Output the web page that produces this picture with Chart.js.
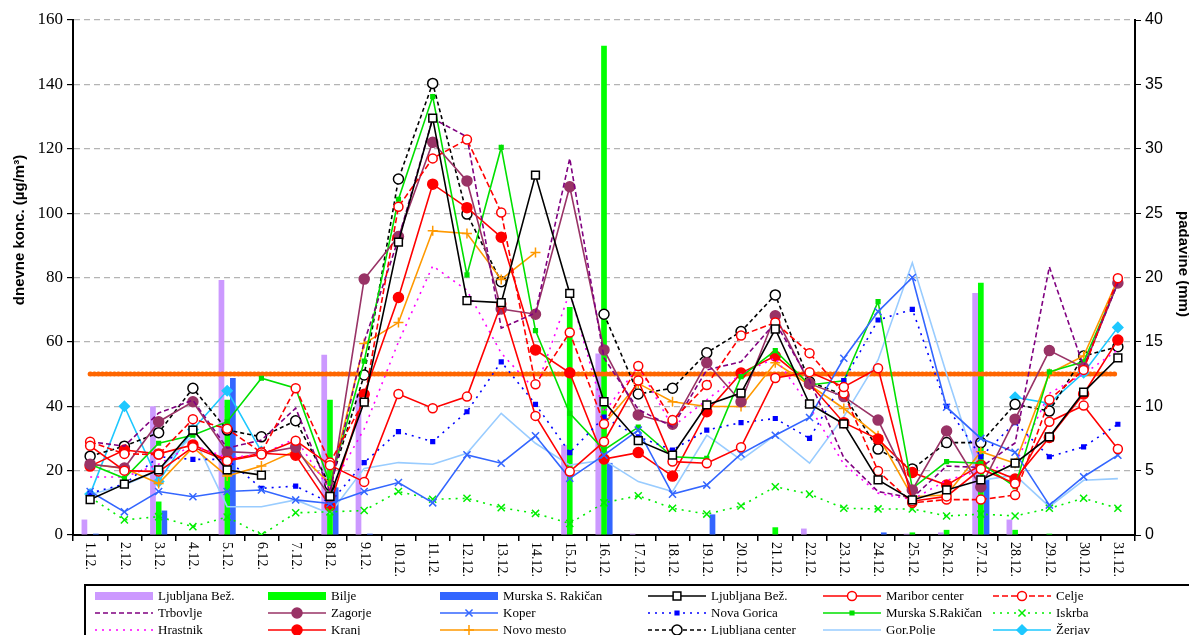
<!DOCTYPE html>
<html>
<head>
<meta charset="utf-8">
<script src="https://cdn.jsdelivr.net/npm/chart.js@4/dist/chart.umd.min.js"></script>
<style>
  html, body { margin: 0; padding: 0; background: #ffffff; }
  #wrap { width: 1189px; height: 635px; }
</style>
</head>
<body>
<div id="wrap"><canvas id="c" width="1189" height="635"></canvas></div>
<script>
// December days
const days = ['1.12.','2.12.','3.12.','4.12.','5.12.','6.12.','7.12.','8.12.','9.12.','10.12.',
  '11.12.','12.12.','13.12.','14.12.','15.12.','16.12.','17.12.','18.12.','19.12.','20.12.',
  '21.12.','22.12.','23.12.','24.12.','25.12.','26.12.','27.12.','28.12.','29.12.','30.12.','31.12.'];

// Precipitation (mm), right axis
const rainLjubljanaBez = [1.2,0,10.0,0,19.8,0,0,14.0,11.0,0,0,0,0,0,7.0,14.1,0.1,0,0,0,0,0.5,0,0,0.1,0.2,18.8,1.2,0,0,0];
const rainBilje        = [0,0,2.6,0,10.5,0,0,10.5,0,0,0,0,0,0,17.7,38.0,0,0,0,0,0.6,0,0,0,0.2,0.4,19.6,0.4,0.1,0,0];
const rainMurska       = [0.1,0,1.9,0,12.2,0,0,3.7,0.1,0,0,0,0,0,0,5.6,0,0,1.6,0,0,0,0,0.2,0,0,4.3,0,0,0,0];

// Daily PM10 concentrations (µg/m³), left axis
const ljubljanaBez = [11,15.8,20.2,32.6,20.2,18.6,null,12,41.3,91,129.5,72.8,72.2,111.8,75.1,41.4,29.3,24.8,40.4,44.1,64,40.7,34.5,17.1,10.9,14,17.1,22.3,30.5,44.4,55];
const mariborCenter = [27.7,20,19.7,27.3,23,25,29.3,21.7,16.5,43.8,39.4,43,71.8,37,19.7,29,48,22.8,22.3,27.3,48.8,50.6,46,51.8,10.5,12,20.5,16,35.2,40.2,26.7];
const celje = [29,25.2,25,36,33,25.6,45.6,22.5,41.7,102,117,122.9,100.2,46.8,62.9,34.5,52.5,35.7,46.6,62,66,56.5,44,19.9,10,11,11,12.4,42,51.3,79.8];
const trbovlje = [29,27.6,37.9,41.9,27,29.5,39.4,13.5,60,92,129.4,123.7,64.3,69,117,55,39,33.6,51.3,53.8,66,48,24,13.5,11.5,21.4,21,28.6,83.3,52.3,78.3];
const zagorje = [22,20.8,35.2,41.4,25.9,25.4,27.3,11.9,79.5,92.7,122,110,70.2,68.6,108.2,57.5,37.3,34.4,53.5,41.4,68.1,47,43,35.7,14,32.3,14.9,36,57.3,52,78.3];
const koper = [13.5,7.2,13.5,11.9,13.5,14,10.9,9.8,13.5,16.3,10,24.9,22.3,30.8,17.6,24.8,32.6,12.7,15.5,25.2,31,36.5,54.9,69.4,80,39.7,30,25.7,9.3,18.1,24.8];
const novaGorica = [13,15.8,24.3,23.5,23.5,14.5,15.2,10,22.5,32.1,29,38.3,53.8,40.6,25.6,36.6,30.5,26.4,32.6,34.9,36.2,30,48,66.8,70.1,40,24.3,34.9,24.3,27.4,34.4];
const murskaRakican = [22,17.6,28.5,31,35.2,48.7,45.6,16,54,104.3,136.2,80.8,120.4,63.5,37.8,26.4,33.5,24.3,23.8,49.2,57.3,46.6,47.9,72.5,14.5,22.8,22.3,15,50.7,53.8,78.2];
const iskrba = [11.7,4.7,5.7,2.6,5.6,0,6.9,7.2,7.6,13.5,11.1,11.4,8.5,6.7,3.6,10,12.2,8.3,6.5,9,15,12.7,8.3,8.1,8.1,5.9,6.5,5.9,8.3,11.4,8.3];
const hrastnik = [18,18,22,28,24,25,30,14,33,60,83.6,76,56.5,45,75.5,38,52.5,33.6,42,50,55,40,22,13,11,17,20,22,44,50,57.5];
const kranj = [21.4,26.4,25.2,28,23.3,25.4,24.8,9,43.7,73.8,109,101.7,92.5,57.5,50.4,23.6,25.6,18.3,38.3,50.3,55.6,47,34.9,29.8,19.4,15.5,21.7,17.4,30.3,43.8,60.6];
const novoMesto = [22,20.7,16,27.2,18.3,21.4,26.2,16,59.5,66,94.5,93.7,79.4,87.8,null,34.5,47.1,41.4,39.9,39.9,53.5,46.6,39.3,30.8,11.9,12.4,25.9,22.3,50.2,55.6,79.4];
const ljubljanaCenter = [24.5,27.6,31.8,45.6,32.6,30.5,35.5,15.5,49.7,110.6,140.3,99.7,78.7,null,null,68.6,43.8,45.6,56.6,63.2,74.6,47.6,43.5,26.7,20.5,28.7,28.7,40.6,38.5,55.6,58.5];
const gorPolje = [12.5,15.5,20,31,8.8,8.8,10.9,6.7,20.7,22.5,22,25.4,37.8,28.5,21.7,23.3,16.6,13.5,31,23.3,31,22.3,36.8,54.4,84.6,50,17,18.6,8.8,17,17.5];
const zerjav = [12.7,40,16.6,32.8,44.8,25.9,null,null,null,null,null,null,null,null,null,null,null,null,null,null,null,null,null,null,null,null,null,42.8,40.9,50.4,64.5];

// Daily limit value (µg/m³)
const dailyLimit = [50,50,50,50,50,50,50,50,50,50,50,50,50,50,50,50,50,50,50,50,50,50,50,50,50,50,50,50,50,50,50];

// Axis ticks
const leftTicks = [0,20,40,60,80,100,120,140,160];
const rightTicks = [0,5,10,15,20,25,30,35,40];

function bar(label, data, color) {
  return { type: 'bar', label, data, backgroundColor: color, borderWidth: 0,
    yAxisID: 'y1', categoryPercentage: 0.5, barPercentage: 1.0, order: 10 };
}
function line(label, data, color, o) {
  return Object.assign({ type: 'line', label, data, borderColor: color, backgroundColor: color,
    borderWidth: 1.6, pointRadius: 0, pointBorderWidth: 1.5, pointBorderColor: color,
    pointBackgroundColor: color, tension: 0, spanGaps: false, yAxisID: 'y', order: 1 }, o || {});
}

const DS = {
  rLjB: bar('Ljubljana Bež.', rainLjubljanaBez, '#cc99ff'),
  rBil: bar('Bilje', rainBilje, '#00ff00'),
  rMur: bar('Murska S. Rakičan', rainMurska, '#3366ff'),
  limit: line('limit', dailyLimit, '#ff6600', { borderWidth: 5, borderDash: [0.5, 3.5], borderCapStyle: 'round', order: 5 }),
  ljBez: line('Ljubljana Bež.', ljubljanaBez, '#000000', { pointStyle: 'rect', pointRadius: 5.5, pointBackgroundColor: '#ffffff' }),
  mar: line('Maribor center', mariborCenter, '#ff0000', { pointStyle: 'circle', pointRadius: 4.5, pointBackgroundColor: '#ffffff' }),
  cel: line('Celje', celje, '#ff0000', { borderDash: [6, 3], pointStyle: 'circle', pointRadius: 4.5, pointBackgroundColor: '#ffffff' }),
  trb: line('Trbovlje', trbovlje, '#800080', { borderDash: [5, 3] }),
  zag: line('Zagorje', zagorje, '#993366', { pointStyle: 'circle', pointRadius: 5 }),
  kop: line('Koper', koper, '#3366ff', { pointStyle: 'crossRot', pointRadius: 5 }),
  ng: line('Nova Gorica', novaGorica, '#0000ff', { borderDash: [2, 5], pointStyle: 'rect', pointRadius: 2.6 }),
  msr: line('Murska S.Rakičan', murskaRakican, '#00e000', { pointStyle: 'rect', pointRadius: 2.6 }),
  isk: line('Iskrba', iskrba, '#00ee00', { borderDash: [2, 5], pointStyle: 'crossRot', pointRadius: 5 }),
  hra: line('Hrastnik', hrastnik, '#ff00ff', { borderDash: [2, 5] }),
  kra: line('Kranj', kranj, '#ff0000', { pointStyle: 'circle', pointRadius: 5 }),
  nm: line('Novo mesto', novoMesto, '#ff9900', { pointStyle: 'cross', pointRadius: 5 }),
  ljC: line('Ljubljana center', ljubljanaCenter, '#000000', { borderDash: [4, 3], pointStyle: 'circle', pointRadius: 5, pointBackgroundColor: '#ffffff' }),
  gp: line('Gor.Polje', gorPolje, '#99ccff', {}),
  zer: line('Žerjav', zerjav, '#1ec8ff', { pointStyle: 'rectRot', pointRadius: 5 })
};

// legend grid: 3 rows x 6 columns
const legendRows = [
  ['rLjB', 'rBil', 'rMur', 'ljBez', 'mar', 'cel'],
  ['trb', 'zag', 'kop', 'ng', 'msr', 'isk'],
  ['hra', 'kra', 'nm', 'ljC', 'gp', 'zer']
];
const legendCols = [95, 268, 440, 648, 823, 993];
const legendRowY = [596, 613, 630];

const decorations = {
  id: 'decorations',
  afterDraw(chart) {
    const ctx = chart.ctx;
    const xs = chart.scales.x;
    const area = chart.chartArea;
    ctx.save();
    // rotated day labels
    ctx.fillStyle = '#000';
    ctx.font = '14px "Liberation Serif", serif';
    ctx.textAlign = 'left';
    ctx.textBaseline = 'middle';
    days.forEach((d, i) => {
      const x = xs.getPixelForValue(i);
      ctx.save();
      ctx.translate(x, area.bottom + 7);
      ctx.rotate(Math.PI / 2);
      ctx.fillText(d, 0, 0);
      ctx.restore();
    });
    // axis titles
    ctx.font = 'bold 15px "Liberation Sans", Arial, sans-serif';
    ctx.textAlign = 'center';
    ctx.textBaseline = 'middle';
    ctx.save();
    ctx.translate(20, 230);
    ctx.rotate(-Math.PI / 2);
    ctx.fillText('dnevne konc. (µg/m³)', 0, 0);
    ctx.restore();
    ctx.save();
    ctx.translate(1183, 264);
    ctx.rotate(Math.PI / 2);
    ctx.fillText('padavine (mm)', 0, 0);
    ctx.restore();

    // legend frame
    ctx.lineWidth = 2;
    ctx.strokeStyle = '#000';
    ctx.setLineDash([]);
    ctx.strokeRect(85, 585, 1200, 60);
    ctx.font = '13px "Liberation Serif", serif';
    ctx.textAlign = 'left';
    ctx.textBaseline = 'middle';
    legendRows.forEach((row, r) => {
      row.forEach((key, c) => {
        const ds = DS[key];
        const x0 = legendCols[c];
        const y = legendRowY[r];
        if (ds.type === 'bar') {
          ctx.fillStyle = ds.backgroundColor;
          ctx.fillRect(x0, y - 4, 58, 8);
        } else {
          ctx.strokeStyle = ds.borderColor;
          ctx.lineWidth = ds.borderWidth;
          ctx.setLineDash(ds.borderDash || []);
          ctx.beginPath();
          ctx.moveTo(x0, y);
          ctx.lineTo(x0 + 58, y);
          ctx.stroke();
          ctx.setLineDash([]);
          if (ds.pointRadius > 0) {
            ctx.fillStyle = ds.pointBackgroundColor;
            ctx.strokeStyle = ds.pointBorderColor;
            ctx.lineWidth = ds.pointBorderWidth;
            Chart.helpers.drawPoint(ctx, { pointStyle: ds.pointStyle, radius: ds.pointRadius, rotation: 0, borderWidth: ds.pointBorderWidth }, x0 + 29, y);
          }
        }
        ctx.fillStyle = '#000';
        ctx.fillText(ds.label, x0 + 63, y + 1);
      });
    });
    ctx.restore();
  }
};

new Chart(document.getElementById('c'), {
  data: {
    labels: days,
    datasets: [DS.rLjB, DS.rBil, DS.rMur, DS.limit,
      DS.ljBez, DS.mar, DS.cel, DS.trb, DS.zag, DS.kop, DS.ng, DS.msr, DS.isk,
      DS.hra, DS.kra, DS.nm, DS.ljC, DS.gp, DS.zer]
  },
  options: {
    responsive: false,
    animation: false,
    devicePixelRatio: 1,
    layout: { padding: { top: 20, left: 0, right: 0, bottom: 0 } },
    plugins: { legend: { display: false }, tooltip: { enabled: false } },
    scales: {
      x: {
        type: 'category',
        offset: true,
        grid: { display: true, drawOnChartArea: false, drawTicks: true, tickLength: 6, tickColor: '#000', offset: true, lineWidth: 1.5 },
        border: { display: true, color: '#000', width: 2 },
        ticks: { display: false },
        afterFit(s) { s.height = 100; }
      },
      y: {
        position: 'left', min: 0, max: 160,
        afterBuildTicks(s) { s.ticks = leftTicks.map(v => ({ value: v })); },
        ticks: { color: '#000', font: { family: '"Liberation Serif", serif', size: 17 }, padding: 4 },
        grid: { color: '#b4b4b4', lineWidth: 1.2, tickColor: '#000', tickLength: 6 },
        border: { display: true, color: '#000', width: 2, dash: [6, 4] },
        afterFit(s) { s.width = 73; }
      },
      y1: {
        position: 'right', min: 0, max: 40,
        afterBuildTicks(s) { s.ticks = rightTicks.map(v => ({ value: v })); },
        ticks: { color: '#000', font: { family: '"Liberation Sans", Arial, sans-serif', size: 16 }, padding: 4 },
        grid: { drawOnChartArea: false, tickColor: '#000', tickLength: 6 },
        border: { display: true, color: '#000', width: 2 },
        afterFit(s) { s.width = 54; }
      }
    }
  },
  plugins: [decorations]
});
</script>
</body>
</html>
